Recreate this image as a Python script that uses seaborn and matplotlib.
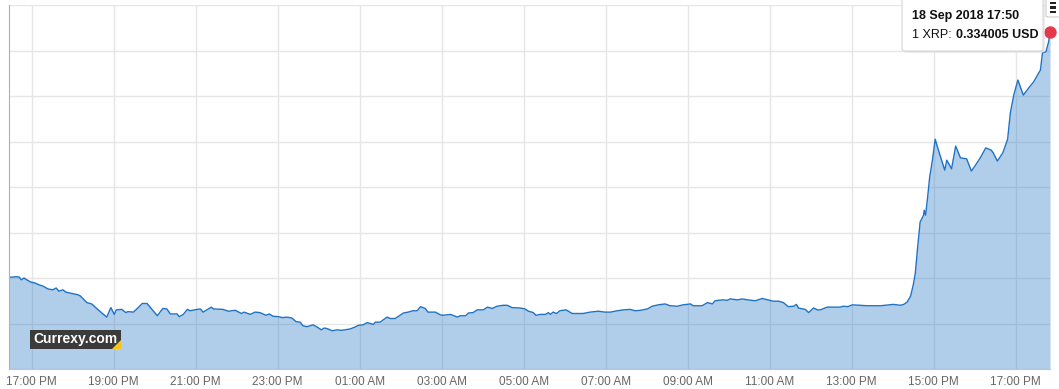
import numpy as np
import pandas as pd
import matplotlib
matplotlib.use("Agg")
import matplotlib.pyplot as plt
import matplotlib.dates as mdates
from matplotlib.patches import Rectangle, Polygon, FancyBboxPatch
import seaborn as sns

# ---- data (XRP / USD, 17-18 Sep 2018) ----
times = ["16:27","16:33","16:37","16:42","16:45","16:49","16:53","16:59","17:05","17:11",
         "17:17","17:24","17:31","17:36","17:40","17:46","17:50","17:56","18:02","18:08",
         "18:11","18:21","18:28","18:36","18:43","18:50","18:56","19:01","19:04","19:12",
         "19:18","19:21","19:29","19:34","19:42","19:49","20:04","20:12","20:18","20:23",
         "20:33","20:36","20:42","20:48","20:52","21:02","21:07","21:11","21:23","21:26",
         "21:40","21:48","21:58","22:07","22:11","22:20","22:27","22:34","22:43","22:48",
         "22:53","23:01","23:07","23:14","23:21","23:27","23:33","23:37","23:43","23:52",
         "23:58","00:04","00:08","00:12","00:20","00:27","00:34","00:46","00:53","00:58",
         "01:05","01:11","01:20","01:23","01:30","01:40","01:45","01:52","02:04","02:11",
         "02:18","02:24","02:29","02:36","02:40","02:51","02:58","03:02","03:13","03:23",
         "03:27","03:35","03:39","03:46","03:52","04:01","04:07","04:14","04:21","04:30",
         "04:36","04:43","04:55","05:02","05:07","05:14","05:18","05:24","05:32","05:36",
         "05:39","05:43","05:48","05:53","06:02","06:11","06:18","06:27","06:37","06:49",
         "06:59","07:07","07:17","07:26","07:36","07:43","07:51","08:01","08:08","08:17",
         "08:27","08:34","08:45","08:53","09:04","09:08","09:21","09:29","09:36","09:40",
         "09:51","09:58","10:02","10:13","10:20","10:27","10:39","10:49","10:57","11:05",
         "11:13","11:20","11:27","11:35","11:39","11:42","11:52","11:57","12:04","12:10",
         "12:14","12:24","12:33","12:43","12:48","12:54","13:01","13:13","13:23","13:42",
         "14:01","14:11","14:16","14:21","14:26","14:30","14:33","14:36","14:40","14:45",
         "14:46","14:48","14:51","14:54","14:58","15:02","15:08","15:16","15:19","15:26",
         "15:32","15:39","15:48","15:55","16:01","16:08","16:16","16:24","16:27","16:33",
         "16:41","16:48","16:52","16:57","17:03","17:11","17:19","17:26","17:36","17:39",
         "17:44","17:48","17:50"]
rates = [0.2802,0.2802,0.2803,0.2802,0.2796,0.2800,0.2796,0.2791,0.2789,0.2785,
         0.2782,0.2776,0.2774,0.2778,0.2771,0.2774,0.2769,0.2767,0.2765,0.2763,
         0.2761,0.2746,0.2743,0.2732,0.2723,0.2714,0.2735,0.2720,0.2730,0.2731,
         0.2724,0.2726,0.2725,0.2732,0.2744,0.2744,0.2717,0.2733,0.2732,0.2721,
         0.2721,0.2715,0.2720,0.2731,0.2728,0.2731,0.2732,0.2725,0.2736,0.2732,
         0.2731,0.2727,0.2729,0.2722,0.2725,0.2720,0.2725,0.2724,0.2718,0.2721,
         0.2716,0.2715,0.2713,0.2714,0.2712,0.2704,0.2703,0.2695,0.2693,0.2697,
         0.2692,0.2686,0.2690,0.2689,0.2684,0.2686,0.2685,0.2688,0.2692,0.2696,
         0.2697,0.2702,0.2698,0.2703,0.2703,0.2714,0.2711,0.2711,0.2723,0.2725,
         0.2728,0.2728,0.2737,0.2733,0.2725,0.2725,0.2719,0.2718,0.2720,0.2714,
         0.2717,0.2717,0.2723,0.2724,0.2730,0.2730,0.2736,0.2733,0.2738,0.2740,
         0.2740,0.2735,0.2734,0.2732,0.2727,0.2724,0.2718,0.2720,0.2720,0.2724,
         0.2720,0.2725,0.2722,0.2728,0.2730,0.2722,0.2722,0.2722,0.2725,0.2727,
         0.2725,0.2725,0.2728,0.2730,0.2731,0.2728,0.2729,0.2732,0.2738,0.2741,
         0.2743,0.2739,0.2738,0.2741,0.2743,0.2739,0.2739,0.2746,0.2743,0.2750,
         0.2752,0.2751,0.2754,0.2752,0.2754,0.2752,0.2750,0.2755,0.2752,0.2749,
         0.2749,0.2746,0.2737,0.2738,0.2742,0.2734,0.2731,0.2724,0.2734,0.2730,
         0.2730,0.2736,0.2736,0.2736,0.2738,0.2737,0.2741,0.2740,0.2739,0.2739,
         0.2742,0.2740,0.2742,0.2747,0.2760,0.2785,0.2811,0.2862,0.2923,0.2938,
         0.2949,0.2938,0.2978,0.3022,0.3059,0.3105,0.3075,0.3037,0.3059,0.3040,
         0.3090,0.3064,0.3062,0.3035,0.3048,0.3064,0.3086,0.3081,0.3075,0.3057,
         0.3075,0.3105,0.3163,0.3202,0.3235,0.3202,0.3218,0.3231,0.3257,0.3295,
         0.3297,0.3319,0.334005]
tooltip_title = "18 Sep 2018 17:50"
tooltip_label = "1 XRP:"
tooltip_value = "0.334005 USD"
brand = "Currexy.com"

# build datetimes (roll over midnight)
stamps = []
day = pd.Timestamp("2018-09-17")
prev = None
for t in times:
    h, m = map(int, t.split(":"))
    if prev is not None and h < prev:
        day = day + pd.Timedelta(days=1)
    prev = h
    stamps.append(day + pd.Timedelta(hours=h, minutes=m))
df = pd.DataFrame({"time": stamps, "rate": rates})

# ---- style ----
sns.set_style("white")
plt.rcParams["font.family"] = ["Liberation Sans", "DejaVu Sans"]

W, H = 1059, 389
fig = plt.figure(figsize=(W / 100, H / 100), dpi=100)
ax = fig.add_axes([9 / W, 20 / H, 1041 / W, 364 / H])

line_color = "#1f72c4"
ax.fill_between(df["time"], df["rate"], 0.26, color=line_color, alpha=0.35,
                linewidth=0, zorder=1)
sns.lineplot(data=df, x="time", y="rate", ax=ax, color=line_color,
             linewidth=1.0, zorder=2)

ax.set_xlim(df["time"].iloc[0], df["time"].iloc[-1])
ax.set_ylim(0.26, 0.34)
ax.yaxis.set_major_locator(matplotlib.ticker.MultipleLocator(0.01))
ax.xaxis.set_major_locator(mdates.HourLocator(byhour=range(1, 24, 2)))
ax.xaxis.set_major_formatter(mdates.DateFormatter("%H:%M %p"))

ax.set_axisbelow(True)
ax.grid(True, color="#e6e6e6", linewidth=1)
ax.set_xlabel("")
ax.set_ylabel("")
ax.tick_params(axis="y", length=5, width=1, color="#b0b0b0", labelleft=False)
ax.tick_params(axis="x", length=0, labelsize=8.5, labelcolor="#666666", pad=5)
for s in ["top", "right"]:
    ax.spines[s].set_visible(False)
ax.spines["left"].set_color("#b0b0b0")
ax.spines["bottom"].set_color("#c4c4c4")

# hover marker
ax.scatter([df["time"].iloc[-1]], [df["rate"].iloc[-1]], s=80, color="#e5394b",
           zorder=5, clip_on=False, linewidths=0)

def fx(x):
    return x / W

def fy(y):
    return 1 - y / H

# brand badge
fig.patches.append(Rectangle((fx(30), fy(349)), fx(91), 19 / H, transform=fig.transFigure,
                             facecolor="#3b3b3b", edgecolor="none", zorder=6))
fig.patches.append(Polygon([(fx(112), fy(349)), (fx(121), fy(349)), (fx(121), fy(340))],
                           closed=True, transform=fig.transFigure, facecolor="#f5c518",
                           edgecolor="none", zorder=7))
fig.text(fx(75), fy(339.5), brand, color="white", fontsize=10, fontweight="bold",
         ha="center", va="center", zorder=8)

# tooltip
fig.patches.append(FancyBboxPatch((fx(904), fy(53)), fx(141), 54 / H, transform=fig.transFigure,
                                  boxstyle="round,pad=0,rounding_size=0.004",
                                  facecolor="#dddddd", edgecolor="none", alpha=0.5, zorder=8))
fig.patches.append(FancyBboxPatch((fx(902), fy(51)), fx(141), 54 / H, transform=fig.transFigure,
                                  boxstyle="round,pad=0,rounding_size=0.004",
                                  facecolor="white", edgecolor="#d6d6d6", linewidth=0.8, zorder=9))
fig.text(fx(912), fy(16.5), tooltip_title, fontsize=9, fontweight="bold", color="#111111",
         ha="left", va="center", zorder=10)
lab = fig.text(fx(912), fy(35.5), tooltip_label, fontsize=9, color="#111111",
               ha="left", va="center", zorder=10)
renderer = fig.canvas.get_renderer()
bb = lab.get_window_extent(renderer=renderer)
fig.text(bb.x1 / W + fx(4), fy(35.5), tooltip_value, fontsize=9, fontweight="bold",
         color="#111111", ha="left", va="center", zorder=10)

# menu button
fig.patches.append(FancyBboxPatch((fx(1046), fy(17)), fx(16), 19 / H, transform=fig.transFigure,
                                  boxstyle="round,pad=0,rounding_size=0.003",
                                  facecolor="white", edgecolor="#cccccc", linewidth=0.8, zorder=11))
for yy in (3, 7.5, 12):
    fig.patches.append(Rectangle((fx(1050), fy(yy + 1.2)), fx(6), 2.4 / H,
                                 transform=fig.transFigure, facecolor="#222222",
                                 edgecolor="none", zorder=12))

fig.savefig("out.png", dpi=100)
